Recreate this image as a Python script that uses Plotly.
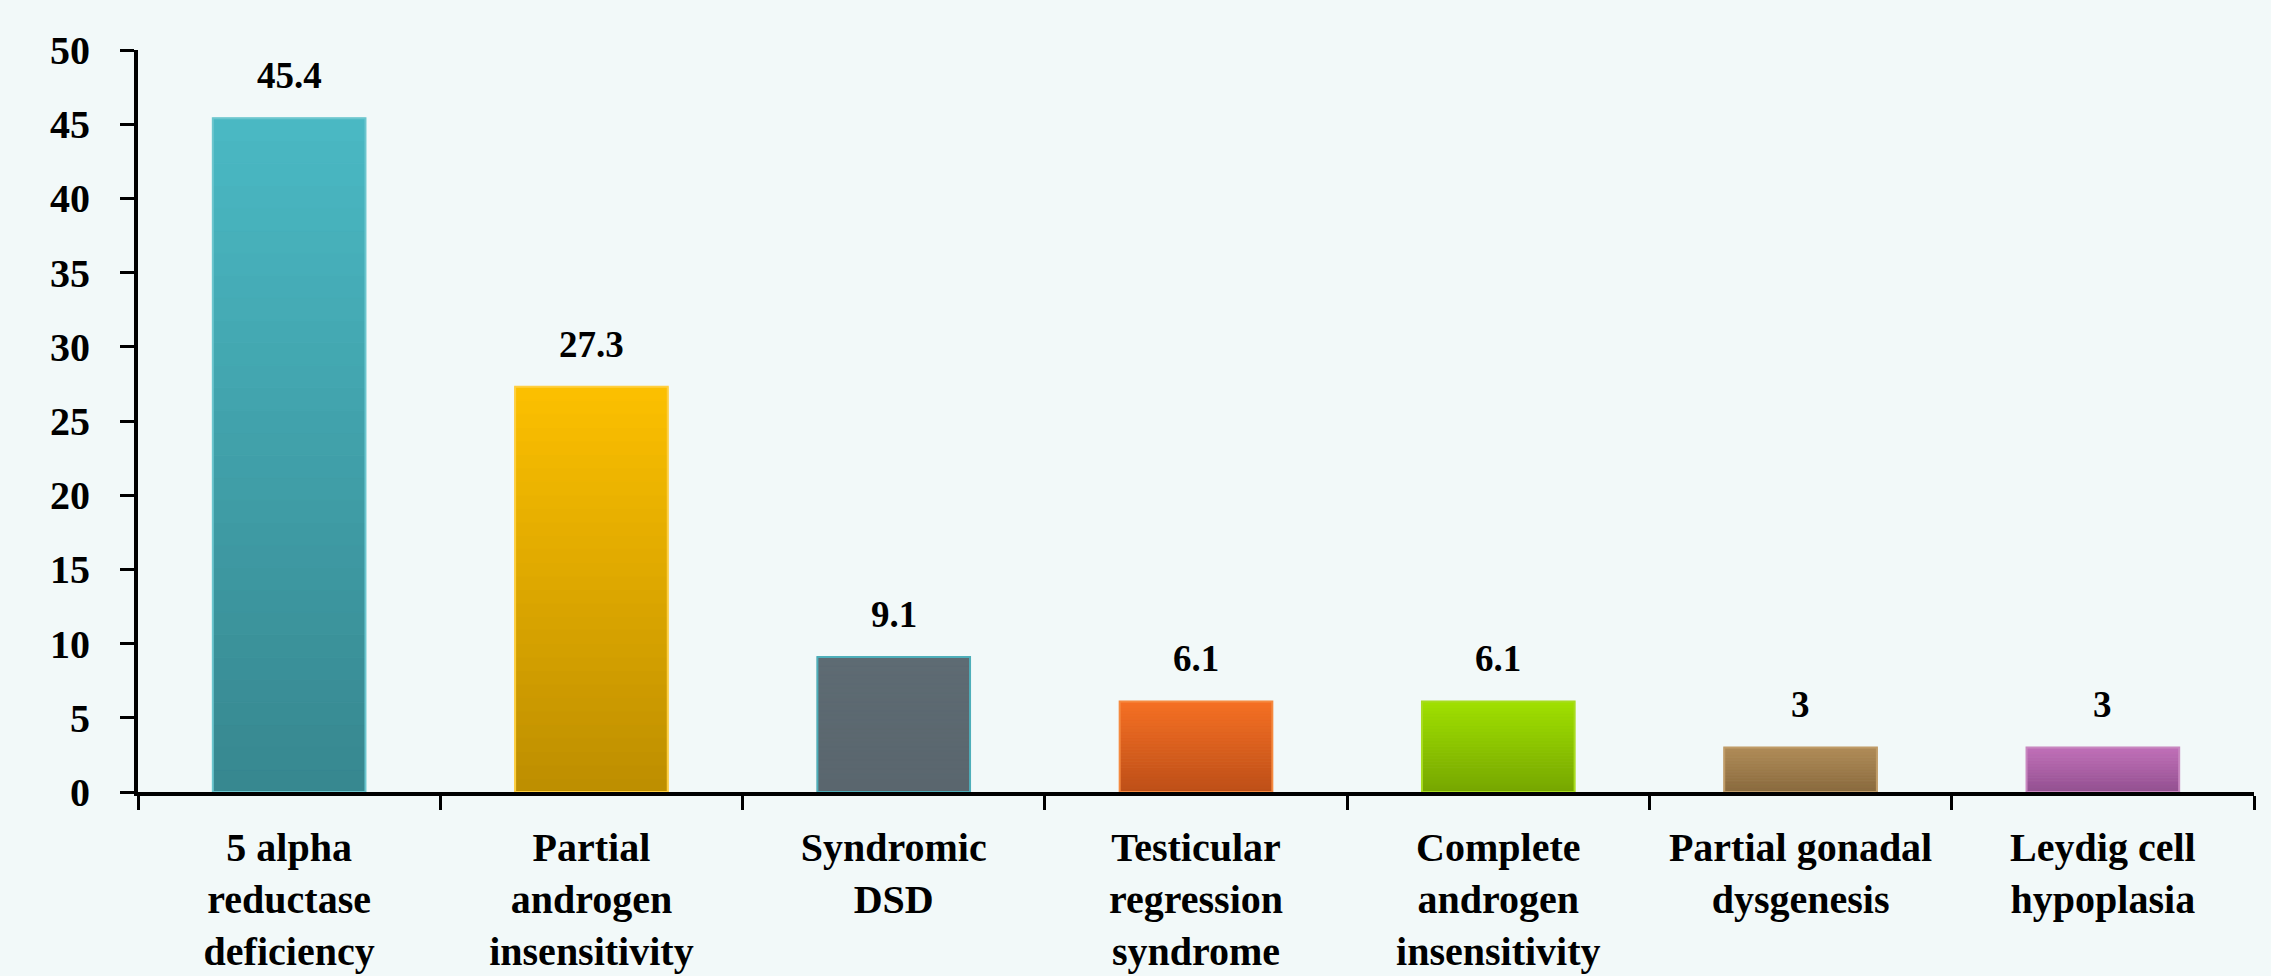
import plotly.graph_objects as go

categories = [
    "5 alpha<br>reductase<br>deficiency",
    "Partial<br>androgen<br>insensitivity",
    "Syndromic<br>DSD",
    "Testicular<br>regression<br>syndrome",
    "Complete<br>androgen<br>insensitivity",
    "Partial gonadal<br>dysgenesis",
    "Leydig cell<br>hypoplasia",
]
values = [45.4, 27.3, 9.1, 6.1, 6.1, 3, 3]
value_labels = ["45.4", "27.3", "9.1", "6.1", "6.1", "3", "3"]
top_colors = ["#4AB9C4", "#FCC000", "#5E6B73", "#F57024", "#A0E000", "#B08C58", "#C070B8"]
bottom_colors = ["#37878F", "#BD8E00", "#5A666E", "#BD4F18", "#76A600", "#896A3E", "#935090"]
edge_colors = ["#6CC6CE", "#FFCF40", "#4EAFBA", "#F58A40", "#A8DC20", "#C09C68", "#C888C0"]

FONT = "Liberation Serif"


def hex_to_rgb(h):
    h = h.lstrip("#")
    return tuple(int(h[i:i + 2], 16) for i in (0, 2, 4))


def mix(c1, c2, t):
    a, b = hex_to_rgb(c1), hex_to_rgb(c2)
    return "rgb(%d,%d,%d)" % tuple(round(a[k] + (b[k] - a[k]) * t) for k in range(3))


fig = go.Figure()
N = 30  # gradient slices (styling only)
for i in range(N):
    t = (i + 0.5) / N
    cols = [mix(b, tc, t) for b, tc in zip(bottom_colors, top_colors)]
    fig.add_trace(go.Bar(
        x=categories,
        y=[v / N for v in values],
        base=[v * i / N for v in values],
        marker=dict(color=cols, line=dict(width=1, color=cols)),
        width=0.505,
        hoverinfo="skip",
        showlegend=False,
    ))

fig.add_trace(go.Bar(
    x=categories,
    y=values,
    marker=dict(color="rgba(0,0,0,0)", line=dict(color=edge_colors, width=2)),
    width=0.505,
    showlegend=False,
))

for c, v, lab in zip(categories, values, value_labels):
    fig.add_annotation(x=c, y=v, text="<b>%s</b>" % lab, showarrow=False,
                       yanchor="bottom", yshift=20,
                       font=dict(family=FONT, size=37, color="black"))

fig.update_layout(
    width=2271, height=976,
    margin=dict(l=138, r=17, t=50, b=184),
    paper_bgcolor="#F2F9F9",
    plot_bgcolor="rgba(0,0,0,0)",
    barmode="overlay",
    bargap=0.5,
    font=dict(family=FONT, size=40, color="black"),
    showlegend=False,
)
fig.update_xaxes(
    type="category",
    automargin=False,
    showline=True, linecolor="black", linewidth=4,
    ticks="outside", ticklen=14, tickwidth=3, tickcolor="black",
    tickson="boundaries",
    tickfont=dict(family=FONT, size=40, color="black"),
    showgrid=False, zeroline=False,
    ticklabelstandoff=17,
    ticktext=["<b>%s</b>" % c for c in categories], tickvals=categories,
)
fig.update_yaxes(
    range=[0, 50], tick0=0, dtick=5,
    automargin=False,
    showline=True, linecolor="black", linewidth=4,
    ticks="outside", ticklen=14, tickwidth=3, tickcolor="black",
    tickfont=dict(family=FONT, size=40, color="black"),
    tickprefix="<b>", ticksuffix="</b>",
    showgrid=False, zeroline=False,
    ticklabelstandoff=22,
)

fig.write_html("out.html", config={"displayModeBar": False},
               post_script="document.body.style.margin='0';document.body.style.overflow='hidden';")
